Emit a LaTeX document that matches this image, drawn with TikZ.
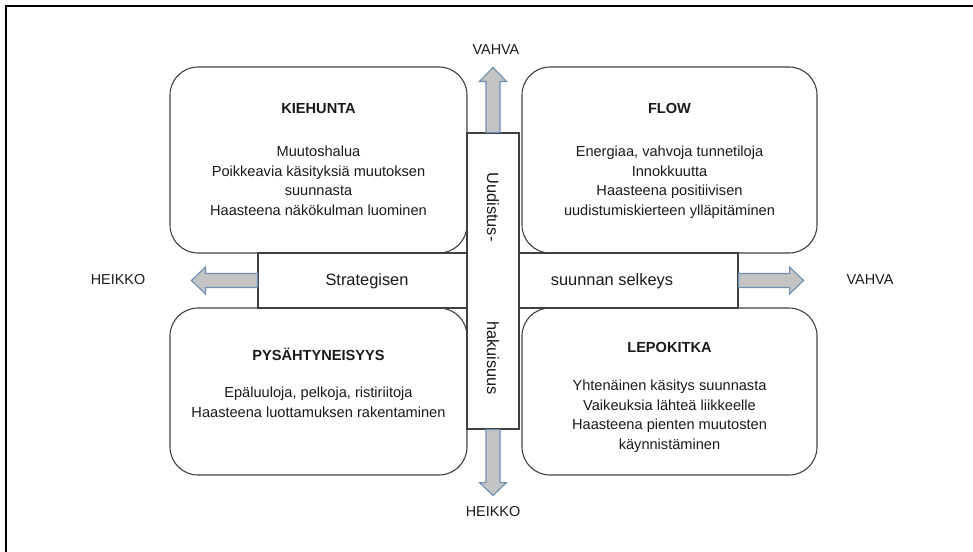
\documentclass[tikz,border=0pt]{standalone}
\usepackage{fontspec}
\setmainfont{Liberation Sans}
\definecolor{boxline}{HTML}{404040}
\definecolor{arrowline}{HTML}{6E8FB4}
\definecolor{arrowfill}{HTML}{C4C4C4}
\definecolor{textcol}{HTML}{1A1A1A}
\begin{document}
\begin{tikzpicture}[x=1pt,y=-1pt,
  quad/.style={draw=boxline, line width=1.1pt, rounded corners=28pt, inner sep=0pt},
  bar/.style={draw=boxline, line width=1.1pt, fill=white, inner sep=0pt},
  blockarrow/.style={draw=arrowline, fill=arrowfill, line width=1.1pt, line join=miter},
  body/.style={font=\fontsize{14.6}{19.5}\selectfont, align=center, inner sep=0pt, text=textcol, anchor=north},
  title/.style={font=\fontsize{14.6}{19.5}\selectfont\bfseries, inner sep=0pt, anchor=base, text=textcol},
  axislabel/.style={font=\fontsize{14.4}{17}\selectfont, inner sep=0pt, text=textcol},
  bartext/.style={font=\fontsize{16.4}{19}\selectfont, inner sep=0pt, text=textcol}]

\useasboundingbox (0,0) rectangle (973,551);

% outer frame (runs off the right and bottom edges)
\draw[line width=2pt] (6,560) -- (6,6) -- (980,6);

% four quadrants
\node[quad, minimum width=297pt, minimum height=186pt] (kiehunta) at (318.5,160) {};
\node[quad, minimum width=295pt, minimum height=186pt] (flow) at (669.5,160) {};
\node[quad, minimum width=297pt, minimum height=167pt] (pysahtyneisyys) at (318.5,391.5) {};
\node[quad, minimum width=295pt, minimum height=167pt] (lepokitka) at (669.5,391.5) {};

% quadrant texts
\node[title] (kiehunta-title) at (318.5,113) {KIEHUNTA};
\node[body] (kiehunta-body) at (318.5,146) {Muutoshalua\\Poikkeavia käsityksiä muutoksen\\suunnasta\\Haasteena näkökulman luominen};

\node[title] (flow-title) at (669.5,113) {FLOW};
\node[body] (flow-body) at (669.5,146) {Energiaa, vahvoja tunnetiloja\\Innokkuutta\\Haasteena positiivisen\\uudistumiskierteen ylläpitäminen};

\node[title] (pysahtyneisyys-title) at (318.5,360) {PYSÄHTYNEISYYS};
\node[body] (pysahtyneisyys-body) at (318.5,387) {Epäluuloja, pelkoja, ristiriitoja\\Haasteena luottamuksen rakentaminen};

\node[title] (lepokitka-title) at (669.5,352) {LEPOKITKA};
\node[body] (lepokitka-body) at (669.5,380) {Yhtenäinen käsitys suunnasta\\Vaikeuksia lähteä liikkeelle\\Haasteena pienten muutosten\\käynnistäminen};

% axis bars
\node[bar, minimum width=480pt, minimum height=55pt] (hbar) at (498,280.5) {};
\node[bar, minimum width=52pt, minimum height=296pt] (vbar) at (493,281) {};

\node[bartext] (hbar-left) at (367,281) {Strategisen};
\node[bartext] (hbar-right) at (612,281) {suunnan selkeys};
\node[bartext, rotate=-90] (vbar-top) at (493,207) {Uudistus-};
\node[bartext, rotate=-90] (vbar-bottom) at (493,358) {hakuisuus};

% block arrows leaving the bars
\draw[blockarrow] (vbar.north) ++(-7,0) -- ++(0,-51) -- ++(-6.5,0) -- ++(13.5,-14)
  -- ++(13.5,14) -- ++(-6.5,0) -- ++(0,51) -- cycle;
\draw[blockarrow] (vbar.south) ++(-7,0) -- ++(0,53) -- ++(-6.5,0) -- ++(13.5,13)
  -- ++(13.5,-13) -- ++(-6.5,0) -- ++(0,-53) -- cycle;
\draw[blockarrow] (hbar.west) ++(0,-7) -- ++(-52,0) -- ++(0,-6.5) -- ++(-14,13.5)
  -- ++(14,13.5) -- ++(0,-6.5) -- ++(52,0) -- cycle;
\draw[blockarrow] (hbar.east) ++(0,-7) -- ++(51,0) -- ++(0,-6.5) -- ++(14,13.5)
  -- ++(-14,13.5) -- ++(0,-6.5) -- ++(-51,0) -- cycle;

% axis end labels
\node[axislabel] (up-label) at (496,50) {VAHVA};
\node[axislabel] (down-label) at (493,512) {HEIKKO};
\node[axislabel] (left-label) at (118,280) {HEIKKO};
\node[axislabel] (right-label) at (870,280) {VAHVA};
\end{tikzpicture}
\end{document}
